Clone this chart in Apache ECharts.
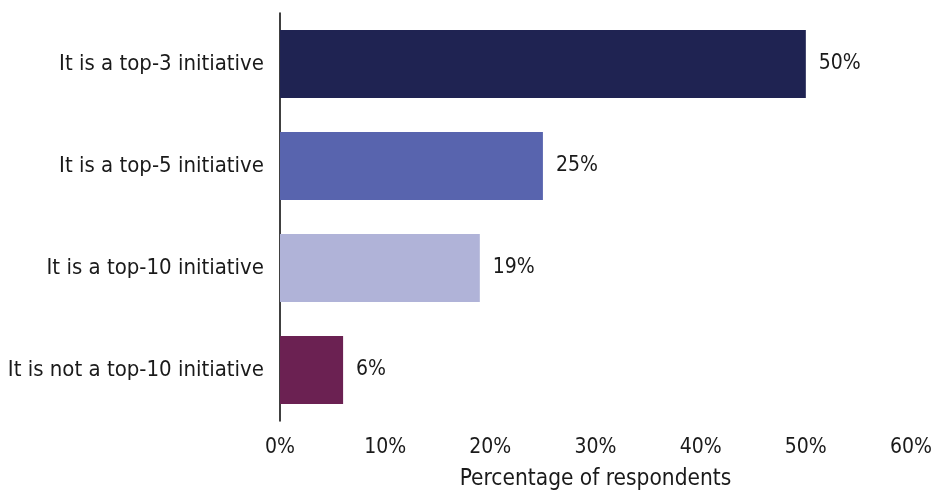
<!DOCTYPE html>
<html><head><meta charset="utf-8">
<script src="https://cdn.jsdelivr.net/npm/echarts@6/dist/echarts.min.js"></script>
<style>html,body{margin:0;padding:0;background:#fff}#c{width:936px;height:496px}</style>
</head><body><div id="c"></div>
<script>
const categories = ["It is a top-3 initiative","It is a top-5 initiative","It is a top-10 initiative","It is not a top-10 initiative"];
const values = [50, 25, 19, 6];
const colors = ["#1f2352","#5864ae","#b0b3d8","#6b2152"];
const xTicks = [0,10,20,30,40,50,60];
const FONT = "DejaVu Sans Condensed";
const chart = echarts.init(document.getElementById('c'));
chart.setOption({
  animation:false,
  textStyle:{fontFamily:FONT},
  grid:{left:280,right:25,top:13,bottom:73,containLabel:false},
  xAxis:{type:'value',min:xTicks[0],max:xTicks[xTicks.length-1],interval:10,
    axisLine:{show:false},axisTick:{show:false},splitLine:{show:false},
    axisLabel:{formatter:v=>v+'%',fontSize:21,color:'#1a1a1a',margin:16,fontFamily:FONT},
    name:'Percentage of respondents',nameLocation:'middle',nameGap:47,
    nameTextStyle:{fontSize:22.5,color:'#1a1a1a',fontFamily:FONT}},
  yAxis:{type:'category',data:categories,inverse:true,
    axisLine:{show:true,lineStyle:{color:'#000',width:1.5}},axisTick:{show:false},
    axisLabel:{fontSize:22,color:'#1a1a1a',margin:16,fontFamily:FONT}},
  series:[{type:'bar',barWidth:68,
    data:values.map((v,i)=>({value:v,itemStyle:{color:colors[i]}})),
    label:{show:true,position:'right',distance:13,formatter:'{c}%',fontSize:21,color:'#1a1a1a',fontFamily:FONT}}]
});
</script></body></html>
